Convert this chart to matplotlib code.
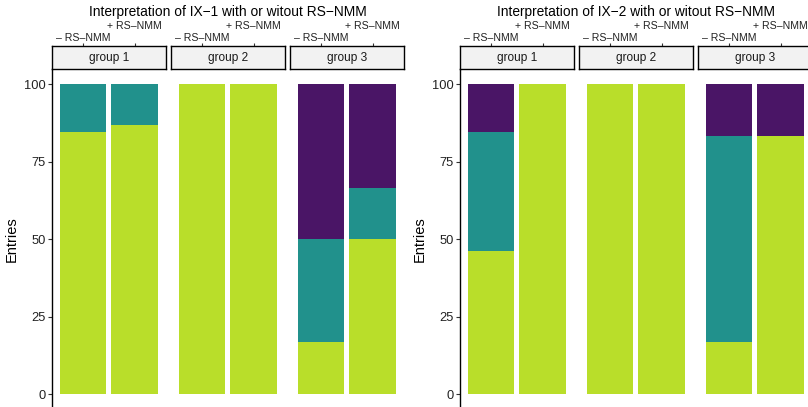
import numpy as np
import matplotlib
matplotlib.use("Agg")
import matplotlib.pyplot as plt
import matplotlib.transforms as mtransforms

plt.rcParams['font.family'] = ['Liberation Sans', 'DejaVu Sans']

# data: share of entries (%) per fill level, stacked bottom -> top
groups = ["group 1", "group 2", "group 3"]
conditions = ["\u2013 RS\u2013NMM", "+ RS\u2013NMM"]
levels = ["lime", "teal", "purple"]
fill_colors = ["#B9DE2A", "#21918C", "#4A1566"]
yticks = [0, 25, 50, 75, 100]

# IX-1, per group: [minus, plus] for each level
ix1_lime = [[84.8, 86.8], [100, 100], [16.7, 50.0]]
ix1_teal = [[15.2, 13.2], [0, 0], [33.3, 16.7]]
ix1_purple = [[0, 0], [0, 0], [50.0, 33.3]]

# IX-2
ix2_lime = [[46.1, 100], [100, 100], [16.7, 83.3]]
ix2_teal = [[38.7, 0], [0, 0], [66.6, 0]]
ix2_purple = [[15.2, 0], [0, 0], [16.7, 16.7]]

panels = [
    ("Interpretation of IX\u22121 with or witout RS\u2212NMM", [ix1_lime, ix1_teal, ix1_purple], 52),
    ("Interpretation of IX\u22122 with or witout RS\u2212NMM", [ix2_lime, ix2_teal, ix2_purple], 460),
]

W, H = 808, 407
fig = plt.figure(figsize=(W / 100, H / 100), dpi=100)


def px_axes(x0, y0, x1, y1):
    # pixel box (top-left origin) -> figure axes
    return fig.add_axes([x0 / W, 1 - y1 / H, (x1 - x0) / W, (y1 - y0) / H])


facet_w = 113.5
facet_gap = 5.5
strip_top, strip_bot = 46, 69
plot_bot = 409.5
xpos = np.array([1, 2])

for title, series, left in panels:
    for g in range(3):
        x0 = left + g * (facet_w + facet_gap)
        x1 = x0 + facet_w
        ax = px_axes(x0, strip_bot, x1, plot_bot)
        bottom = np.zeros(2)
        for lv in range(3):
            vals = np.array(series[lv][g], dtype=float)
            ax.bar(xpos, vals, width=0.9, bottom=bottom, color=fill_colors[lv],
                   linewidth=0)
            bottom += vals
        ax.set_xlim(0.4, 2.6)
        ax.set_ylim(-5, 105)
        for s in ["top", "right", "bottom"]:
            ax.spines[s].set_visible(False)
        ax.set_xticks([])
        if g == 0:
            ax.spines["left"].set_linewidth(1.0)
            ax.set_yticks(yticks)
            ax.tick_params(axis="y", length=3, width=0.8, pad=1.5,
                           labelsize=9.3, labelcolor="#222222", color="#333333")
            ax.set_ylabel("Entries", fontsize=10.5, labelpad=4)
        else:
            ax.spines["left"].set_visible(False)
            ax.set_yticks([])

        # strip with top axis
        sax = px_axes(x0, strip_top, x1, strip_bot)
        sax.set_facecolor("#F2F2F2")
        for s in sax.spines.values():
            s.set_linewidth(1.0)
            s.set_color("black")
        sax.set_xlim(0.4, 2.6)
        sax.set_ylim(0, 1)
        sax.set_yticks([])
        sax.xaxis.tick_top()
        sax.set_xticks(xpos)
        sax.set_xticklabels(["", ""])
        sax.tick_params(axis="x", length=2.5, width=0.8, color="#333333")
        sax.text(1.5, 0.5, groups[g], ha="center", va="center",
                 fontsize=8.6, color="#1A1A1A")
        trans = sax.get_xaxis_transform()
        lower = mtransforms.offset_copy(trans, fig=fig, y=5, units="dots")
        upper = mtransforms.offset_copy(trans, fig=fig, y=17, units="dots")
        sax.text(xpos[0], 1, conditions[0], transform=lower, ha="center",
                 va="baseline", fontsize=7.6, color="#222222")
        sax.text(xpos[1], 1, conditions[1], transform=upper, ha="center",
                 va="baseline", fontsize=7.6, color="#222222")

    cx = left + (3 * facet_w + 2 * facet_gap) / 2
    fig.text(cx / W, 1 - 16 / H, title, ha="center", va="baseline",
             fontsize=9.9, color="black")

fig.savefig("out.png", dpi=100)
